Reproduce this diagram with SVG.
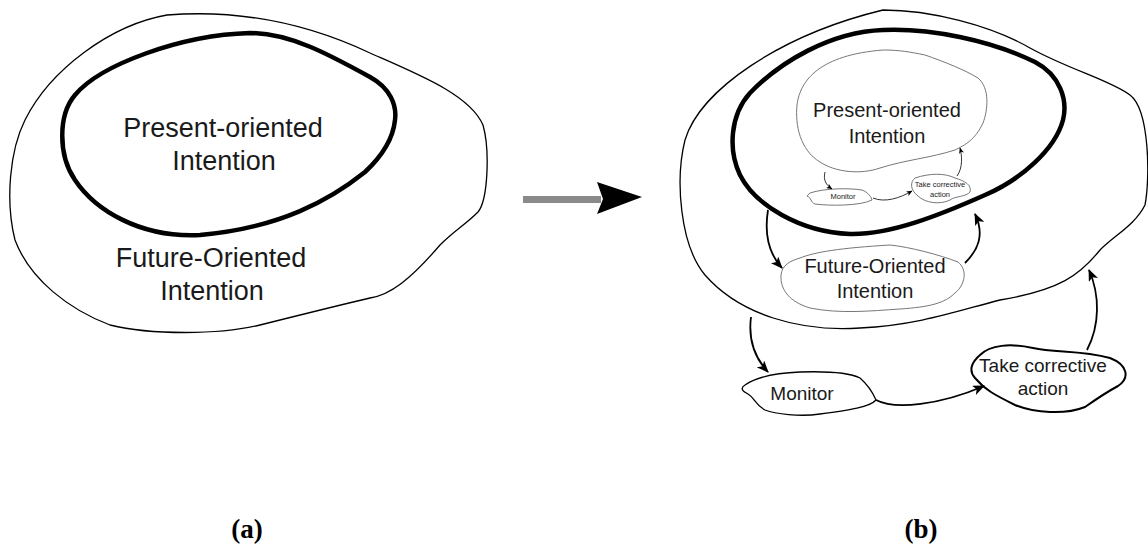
<svg xmlns="http://www.w3.org/2000/svg" width="1148" height="552" viewBox="0 0 1148 552">
<defs>
<style>
.thin{fill:none;stroke:#000;stroke-width:1.3}
.thick{fill:none;stroke:#000;stroke-width:4.5}
.gray{fill:none;stroke:#777;stroke-width:1}
.med{fill:none;stroke:#000;stroke-width:2}
.conn{fill:none;stroke:#000;stroke-width:1.8}
.sconn{fill:none;stroke:#000;stroke-width:0.8}
.t{font-family:"Liberation Sans",Arial,sans-serif;fill:#1a1a1a;text-anchor:middle}
.lab{font-family:"Liberation Serif","Times New Roman",serif;font-weight:bold;fill:#000;text-anchor:middle;font-size:27px}
</style>
<marker id="ah" viewBox="0 0 12 10" refX="11" refY="5" markerWidth="12" markerHeight="10" markerUnits="userSpaceOnUse" orient="auto">
<path d="M0,0 L12,5 L0,10 L3,5 Z" fill="#000"/>
</marker>
<marker id="ahs" viewBox="0 0 12 10" refX="11" refY="5" markerWidth="6" markerHeight="5" markerUnits="userSpaceOnUse" orient="auto">
<path d="M0,0 L12,5 L0,10 L3,5 Z" fill="#000"/>
</marker>
</defs>
<rect width="1148" height="552" fill="#fff"/>

<g id="left-future">
<path class="thin" d="M167,15 C230,10 300,20 370,53 C420,75 470,95 483,125 C490,150 488,200 478,212 C465,225 455,230 440,245 C410,280 390,295 370,298 C340,305 300,315 260,325 C220,335 150,335 110,325 C70,310 30,280 15,240 C5,200 10,150 25,120 C50,70 110,25 167,15 Z"/>
<text class="t" x="211" y="267" font-size="27">Future-Oriented</text>
<text class="t" x="212" y="300" font-size="27">Intention</text>
</g>
<g id="left-present">
<path class="thick" d="M250,33 C290,33 330,55 370,77 C390,88 397,105 395,120 C393,140 380,158 365,172 C330,200 280,228 200,235 C140,238 95,210 75,180 C58,155 58,115 75,95 C100,65 180,35 250,33 Z"/>
<text class="t" x="223" y="137" font-size="27">Present-oriented</text>
<text class="t" x="224" y="170" font-size="27">Intention</text>
</g>

<g id="transition-arrow">
<rect x="523" y="196" width="78" height="7" fill="#8a8a8a"/>
<path d="M597,182 L642,197 L597,214 L603,199 Z" fill="#000"/>
</g>

<g id="right-future-region">
<path class="thin" d="M883,10 C930,10 990,25 1030,48 C1070,70 1110,80 1130,95 C1150,110 1150,180 1145,205 C1135,225 1115,235 1100,250 C1080,275 1060,290 1000,300 C960,310 920,325 860,328 C800,332 740,315 705,275 C680,245 675,180 685,140 C700,90 780,35 883,10 Z"/>
</g>
<g id="right-present-region">
<path class="thick" d="M883,30 C930,28 990,40 1035,62 C1060,75 1068,100 1063,120 C1055,150 1020,180 985,195 C940,215 890,235 850,234 C800,232 755,205 740,175 C728,150 730,115 750,93 C780,62 830,32 883,30 Z"/>
</g>
<g id="inner-present">
<path class="gray" d="M883,50 C900,50 910,52 925,55 C945,62 965,70 978,78 C990,88 988,110 983,123 C975,140 965,145 955,150 C930,158 905,160 880,168 C860,175 835,172 820,162 C800,150 795,125 797,105 C800,80 820,55 883,50 Z"/>
<text class="t" x="887" y="117" font-size="20">Present-oriented</text>
<text class="t" x="887" y="143" font-size="20">Intention</text>
</g>
<g id="inner-monitor">
<path class="gray" d="M810,193 C825,188 850,188 862,190 C868,192 872,198 872,200 C860,206 830,206 815,204 C810,202 812,198 807,196 Z"/>
<text class="t" x="843" y="199" font-size="7.5">Monitor</text>
</g>
<g id="inner-take">
<path class="gray" d="M915,178 C930,173 945,173 955,178 C965,181 972,185 970,192 C966,197 955,196 950,200 C940,205 925,203 918,196 C910,190 910,182 915,178 Z"/>
<text class="t" x="940" y="187" font-size="7.5">Take corrective</text>
<text class="t" x="940" y="197" font-size="7.5">action</text>
</g>
<g id="future-oriented">
<path class="gray" d="M800,258 C815,252 840,248 890,245 C910,247 940,255 958,262 C968,270 965,285 955,293 C945,303 930,307 900,309 C870,311 840,314 810,308 C790,302 780,290 781,275 C782,265 790,261 800,258 Z"/>
<text class="t" x="875" y="273" font-size="20">Future-Oriented</text>
<text class="t" x="875" y="298" font-size="20">Intention</text>
</g>
<g id="monitor">
<path class="thin" d="M745,385 C755,378 775,373 800,372 C830,371 850,373 860,378 C868,385 873,393 876,400 C870,407 850,410 820,414 C800,417 775,414 765,410 C755,405 755,398 748,394 C742,391 740,388 745,385 Z"/>
<text class="t" x="802" y="400" font-size="19">Monitor</text>
</g>
<g id="take-corrective">
<path class="med" d="M980,355 C990,345 1010,343 1033,348 C1055,353 1080,350 1110,358 C1128,365 1130,378 1118,386 C1105,393 1095,400 1085,407 C1065,415 1035,413 1015,405 C995,395 985,390 975,378 C968,370 972,362 980,355 Z"/>
<text class="t" x="1043" y="372" font-size="19">Take corrective</text>
<text class="t" x="1043" y="395" font-size="19">action</text>
</g>

<g id="connectors">
<path class="sconn" marker-end="url(#ahs)" d="M825,172 C823,180 826,185 832,189"/>
<path class="sconn" marker-end="url(#ahs)" d="M873,198 C885,203 900,198 912,191"/>
<path class="sconn" marker-end="url(#ahs)" d="M957,176 C963,168 962,155 960,148"/>
<path class="conn" marker-end="url(#ah)" d="M768,210 C764,235 770,255 782,268"/>
<path class="conn" marker-end="url(#ah)" d="M965,263 C978,250 985,235 975,214"/>
<path class="conn" marker-end="url(#ah)" d="M751,317 C748,340 755,358 768,372"/>
<path class="conn" marker-end="url(#ah)" d="M876,400 C895,410 940,405 984,386"/>
<path class="conn" marker-end="url(#ah)" d="M1087,350 C1100,325 1100,295 1089,270"/>
</g>

<g id="labels">
<text class="lab" x="247" y="538">(a)</text>
<text class="lab" x="921" y="538">(b)</text>
</g>
</svg>
